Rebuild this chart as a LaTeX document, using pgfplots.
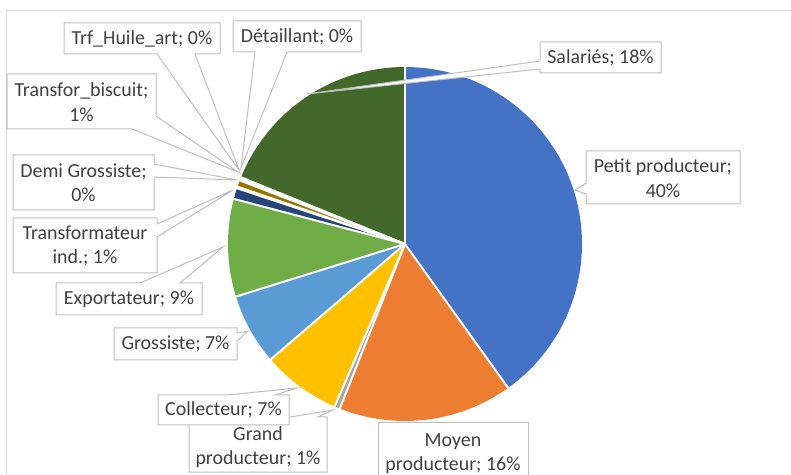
\documentclass[border=0pt]{standalone}
\usepackage{fontspec}
\setmainfont{Carlito}
\usepackage{pgfplots}
\pgfplotsset{compat=1.18}
\definecolor{c1}{HTML}{4472C4}
\definecolor{c2}{HTML}{ED7D31}
\definecolor{c3}{HTML}{A5A5A5}
\definecolor{c4}{HTML}{FFC000}
\definecolor{c5}{HTML}{5B9BD5}
\definecolor{c6}{HTML}{70AD47}
\definecolor{c7}{HTML}{264478}
\definecolor{c8}{HTML}{9E480E}
\definecolor{c9}{HTML}{997300}
\definecolor{c10}{HTML}{636363}
\definecolor{c11}{HTML}{255E91}
\definecolor{c12}{HTML}{43682B}
\definecolor{txt}{HTML}{404040}
\definecolor{edge}{HTML}{BFBFBF}
\definecolor{frame}{HTML}{D9D9D9}

\begin{document}
\begin{tikzpicture}[font=\fontsize{20}{24.5}\selectfont,
  lab/.style={align=center,text=txt,inner sep=0pt},
  call/.style={fill=white,draw=edge,line width=1bp,line join=miter}]
\begin{axis}[x=1bp,y=1bp,xmin=0,xmax=791,ymin=-475,ymax=0,hide axis]
% slices: start % / end % / colour, clockwise from 12 o'clock
% Petit 40.1, Moyen 15.9, Grand 0.5, Collecteur 7.2, Grossiste 6.5, Exportateur 8.9,
% Transformateur ind. 1.0, Demi Grossiste 0.15, Transfor_biscuit 0.6, Trf_Huile_art 0.15, Detaillant 0.15, Salaries 18.85
\pgfplotsextra{
  \foreach \s/\e/\col in {0/40.1/c1,40.1/56.0/c2,56.0/56.5/c3,56.5/63.7/c4,63.7/70.2/c5,70.2/79.1/c6,
      79.1/80.1/c7,80.1/80.25/c8,80.25/80.85/c9,80.85/81.0/c10,81.0/81.15/c11,81.15/100/c12}{
    \fill[\col] (axis cs:405,-244) -- ++({90-3.6*\s}:177bp)
      arc[start angle={90-3.6*\s},end angle={90-3.6*\e},radius=177bp] -- cycle;
  }
  \foreach \s in {0,40.1,56.0,56.5,63.7,70.2,79.1,80.1,80.25,80.85,81.0,81.15}{
    \draw[white,line width=2bp] (axis cs:405,-244) -- ++({90-3.6*\s}:177.5bp);
  }
}
% chart frame
\draw[frame,line width=1bp] (6,-480) -- (6,-11) -- (795,-11);
% callouts
\draw[call] (586,-151)--(740,-151)--(740,-204)--(586,-204)--(586,-194)--(575,-190)--(586,-183)--cycle;
\node[lab] at (663,-178) {Petit producteur;\\40\%};
\draw[call] (378,-423)--(528,-423)--(528,-485)--(378,-485)--cycle;
\node[lab] at (453,-454) {Moyen\\producteur; 16\%};
\draw[call] (189,-417)--(290,-417)--(333,-410)--(318,-417)--(327,-417)--(327,-472)--(189,-472)--cycle;
\node[lab] at (258,-447) {Grand\\producteur; 1\%};
\draw[call] (158,-395)--(227,-395)--(297,-388)--(275,-395)--(289,-395)--(289,-425)--(158,-425)--cycle;
\node[lab] at (223.5,-410) {Collecteur; 7\%};
\draw[call] (114,-328)--(237,-328)--(237,-333)--(248,-331)--(237,-341)--(237,-360)--(114,-360)--cycle;
\node[lab] at (175.5,-344) {Grossiste; 7\%};
\draw[call] (56,-283)--(140,-283)--(223,-247)--(180,-283)--(202,-283)--(202,-315)--(56,-315)--cycle;
\node[lab] at (129,-299) {Exportateur; 9\%};
\draw[call] (13,-218)--(157,-218)--(157,-224)--(233,-190)--(157,-237)--(157,-273)--(13,-273)--cycle;
\node[lab] at (85,-246) {Transformateur\\ind.; 1\%};
\draw[call] (13,-155)--(154,-155)--(154,-164)--(237,-180)--(154,-177)--(154,-210)--(13,-210)--cycle;
\node[lab] at (83.5,-183) {Demi Grossiste;\\0\%};
\draw[call] (7,-74)--(156,-74)--(156,-116)--(238,-172)--(132,-129)--(7,-129)--cycle;
\node[lab] at (81.5,-102) {Transfor\_biscuit;\\1\%};
\draw[call] (64,-23)--(220,-23)--(220,-54)--(195,-54)--(239,-170)--(157,-54)--(64,-54)--cycle;
\node[lab] at (142,-38.5) {Trf\_Huile\_art; 0\%};
\draw[call] (233,-21)--(361,-21)--(361,-52)--(287,-52)--(241,-168)--(255,-52)--(233,-52)--cycle;
\node[lab] at (297,-36.5) {Détaillant; 0\%};
\draw[call] (540,-42)--(661,-42)--(661,-73)--(540,-73)--(540,-69)--(307,-94)--(540,-61)--cycle;
\node[lab] at (600.5,-57.5) {Salariés; 18\%};
\end{axis}
\pgfresetboundingbox
\path (0,0) rectangle (791bp,475bp);
\end{tikzpicture}
\end{document}
